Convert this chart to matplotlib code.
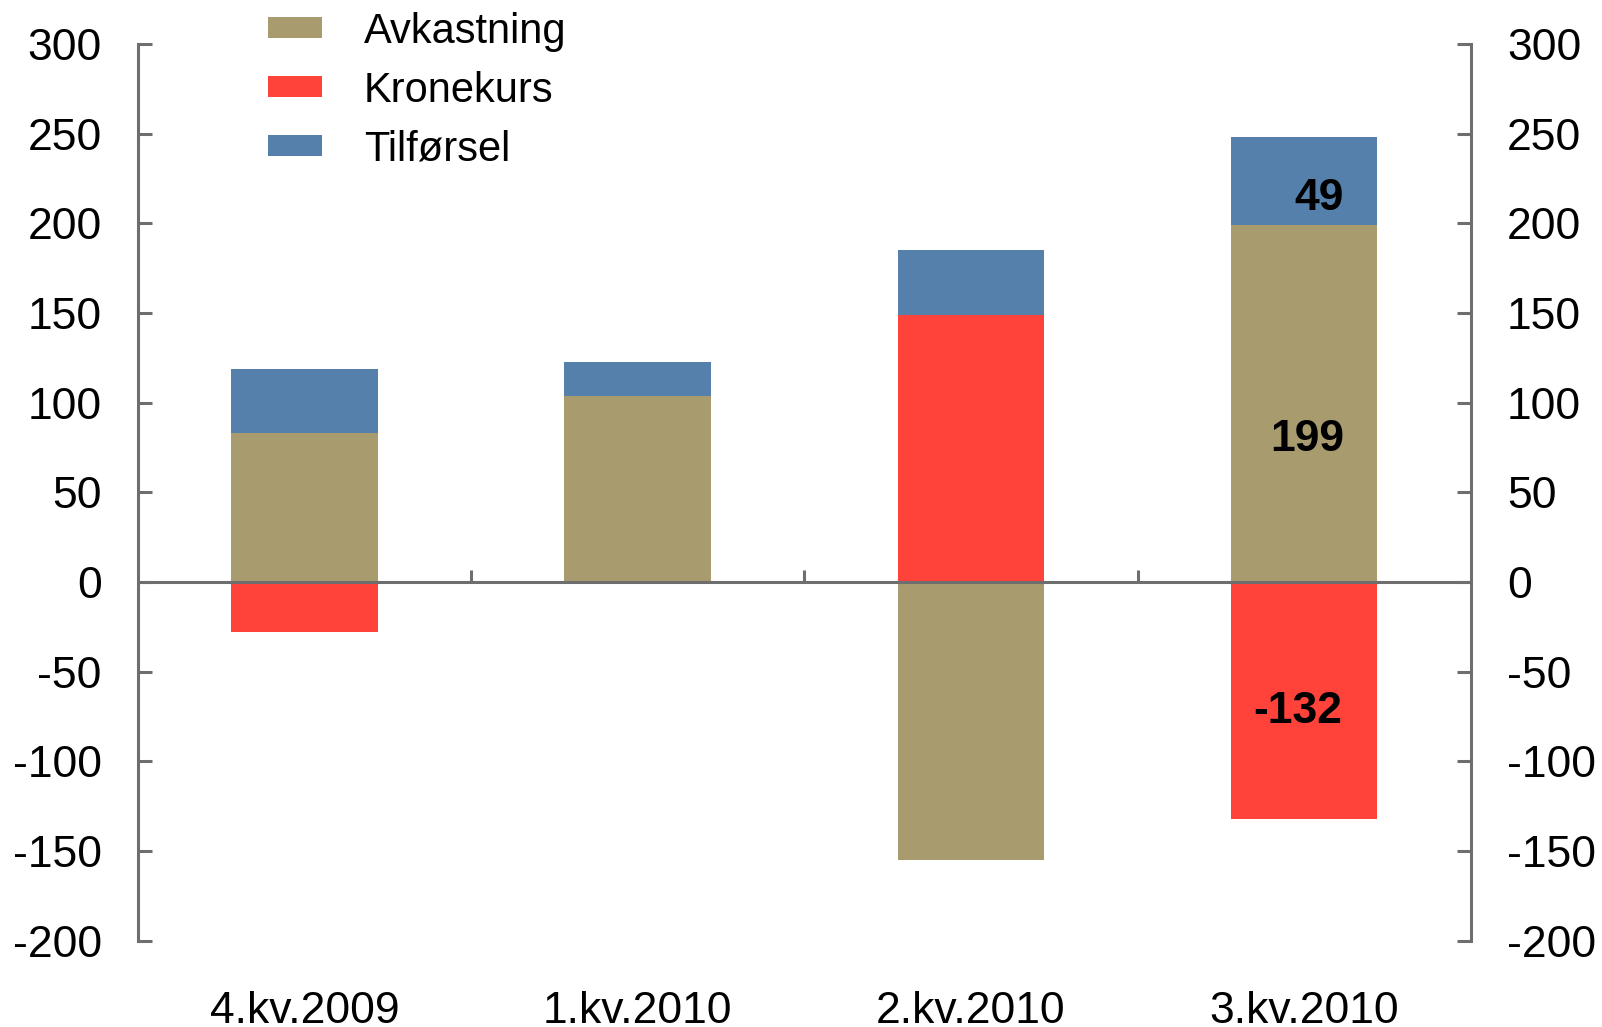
import numpy as np
import matplotlib.pyplot as plt

plt.rcParams['font.family'] = ['Liberation Sans', 'DejaVu Sans']
plt.rcParams['axes.unicode_minus'] = False

quarters = ['4.kv.2009', '1.kv.2010', '2.kv.2010', '3.kv.2010']
avkastning = [83, 104, -155, 199]
kronekurs = [-28, 0, 149, -132]
tilforsel = [36, 19, 36, 49]

series = [('Avkastning', avkastning, '#a89b6e'),
          ('Kronekurs', kronekurs, '#ff433b'),
          ('Tilførsel', tilforsel, '#5480ab')]

grey = '#6e6e6e'
fs = 32

fig = plt.figure(figsize=(16.02, 10.27), dpi=100)
ax = fig.add_axes([0.0861, 0.084, 0.832, 0.873])

x = np.arange(len(quarters))
pos_base = np.zeros(len(quarters))
neg_base = np.zeros(len(quarters))
for name, vals, col in series:
    vals = np.array(vals, dtype=float)
    base = np.where(vals >= 0, pos_base, neg_base)
    ax.bar(x, vals, 0.44, bottom=base, color=col, label=name, zorder=2)
    pos_base = pos_base + np.where(vals > 0, vals, 0)
    neg_base = neg_base + np.where(vals < 0, vals, 0)

# value labels on the last quarter
ax.text(3.045, avkastning[3] + tilforsel[3] * 0.3, str(tilforsel[3]), ha='center', va='center',
        fontsize=fs, fontweight='bold', zorder=3)
ax.text(3.01, avkastning[3] * 0.4, str(avkastning[3]), ha='center', va='center',
        fontsize=fs, fontweight='bold', zorder=3)
ax.text(2.98, kronekurs[3] * 0.545, str(kronekurs[3]), ha='center', va='center',
        fontsize=fs, fontweight='bold', zorder=3)

ax.set_xlim(-0.5, 3.5)
ax.set_ylim(-200, 300)
ax.axhline(0, color=grey, lw=2.2, zorder=3)
ax.vlines([0.5, 1.5, 2.5], 0, 7, color=grey, lw=2.2, zorder=3)

for s in ['top', 'bottom']:
    ax.spines[s].set_visible(False)
for s in ['left', 'right']:
    ax.spines[s].set_color(grey)
    ax.spines[s].set_linewidth(2.2)

ax.set_yticks(np.arange(-200, 301, 50))
ax.tick_params(axis='y', which='both', direction='in', length=10, width=2.2, color=grey,
               labelsize=fs, left=True, right=True, labelleft=True, labelright=True, pad=26)
ax.set_xticks(x)
ax.set_xticklabels(quarters)
ax.tick_params(axis='x', length=0, labelsize=fs, pad=36)

ax.legend(loc='upper left', bbox_to_anchor=(0.157, 1.005), bbox_transform=fig.transFigure,
          frameon=False, fontsize=30, handlelength=1.3, handleheight=0.4,
          handletextpad=1.0, labelspacing=0.46, borderaxespad=0)

fig.savefig('out.png', dpi=100)
